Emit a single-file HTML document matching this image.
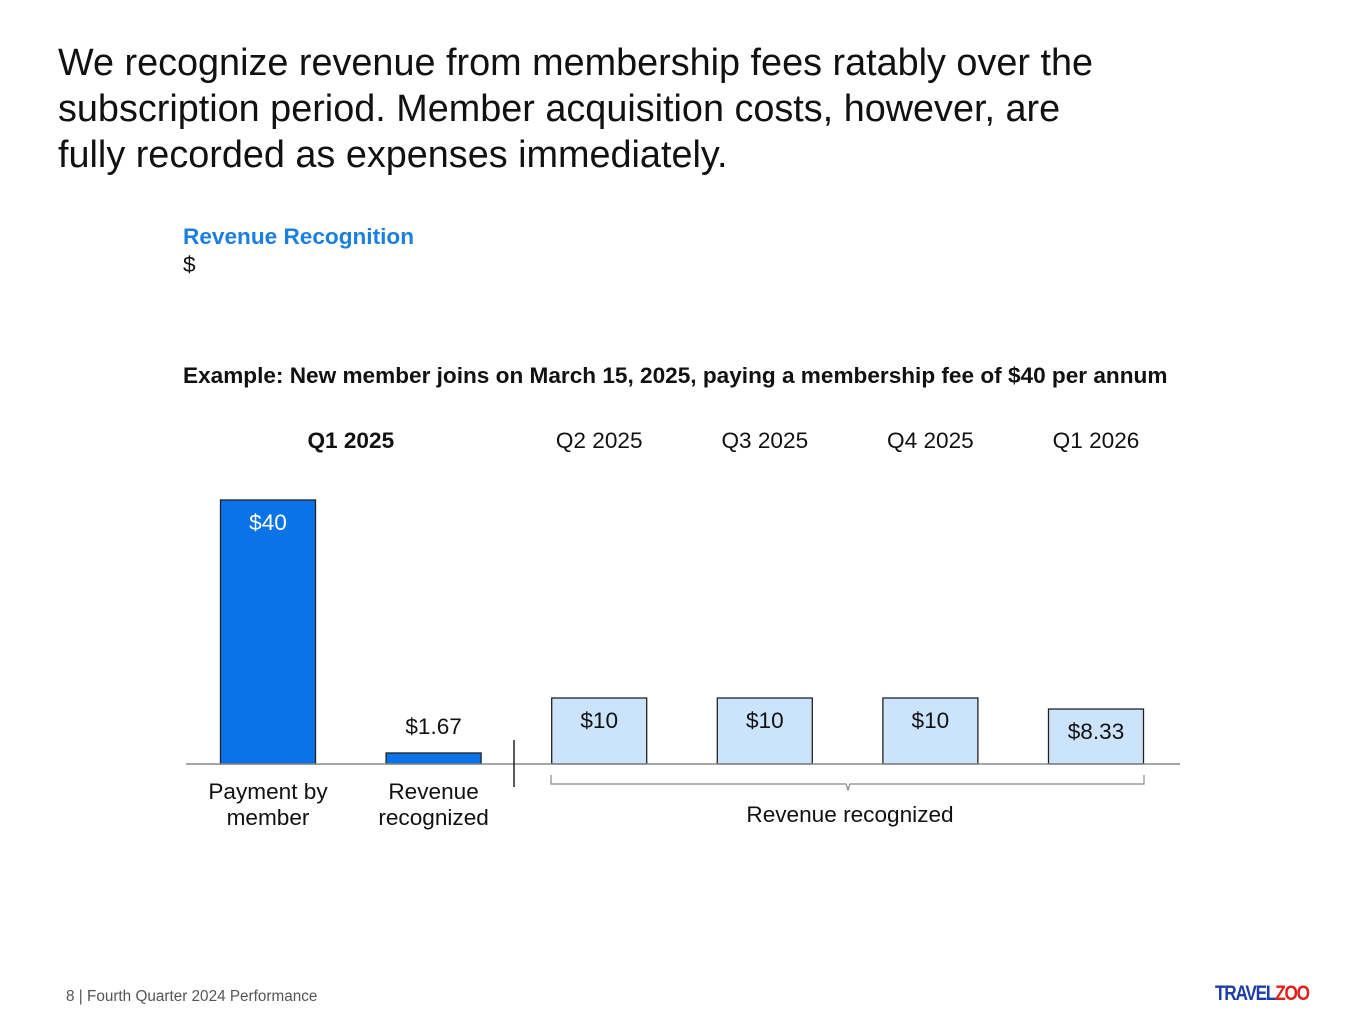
<!DOCTYPE html>
<html><head><meta charset="utf-8"><style>
body{margin:0;width:1365px;height:1024px;background:#fff;font-family:"Liberation Sans",sans-serif;position:relative;overflow:hidden}
.t{position:absolute;white-space:nowrap}
</style></head><body>
<div class="t" style="left:58px;top:40px;font-size:37.8px;line-height:46px;color:#111">We recognize revenue from membership fees ratably over the<br>subscription period. Member acquisition costs, however, are<br>fully recorded as expenses immediately.</div>
<div class="t" style="left:183px;top:224px;font-size:22.6px;font-weight:bold;color:#1a7fe0">Revenue Recognition</div>
<div class="t" style="left:183px;top:252px;font-size:22.6px;color:#111">$</div>
<div class="t" style="left:183px;top:363px;font-size:22.6px;font-weight:bold;color:#111">Example: New member joins on March 15, 2025, paying a membership fee of $40 per annum</div>
<svg id="chart" width="1365" height="1024" style="position:absolute;left:0;top:0" font-family="Liberation Sans, sans-serif"></svg>
<div class="t" style="left:66px;top:988px;font-size:15.3px;color:#555">8 | Fourth Quarter 2024 Performance</div>
<div class="t" style="left:1215px;top:982px;font-size:21px;font-weight:bold;letter-spacing:-1.5px;transform:scaleX(0.82);transform-origin:left"><span style="color:#1b3ea8">TRAVEL</span><span style="color:#e0201a">ZOO</span></div>
<script>
const categories=["Payment by\nmember","Revenue\nrecognized","Q2","Q3","Q4","Q1 2026"];
const values=[40,1.67,10,10,10,8.33];
const labels=["$40","$1.67","$10","$10","$10","$8.33"];
const periods=["Q1 2025","Q2 2025","Q3 2025","Q4 2025","Q1 2026"];
const svg=document.getElementById('chart');
const NS="http://www.w3.org/2000/svg";
const base=764, scale=6.6, x0=268, step=165.6, bw=95, fs=22.6;
const xc=i=>x0+i*step;
const y=v=>base-v*scale;
function mk(t,a,txt){const e=document.createElementNS(NS,t);for(const k in a)e.setAttribute(k,a[k]);if(txt)e.textContent=txt;svg.appendChild(e);return e;}
const pc=[(xc(0)+xc(1))/2,xc(2),xc(3),xc(4),xc(5)];
periods.forEach((p,i)=>{const e=mk('text',{x:pc[i],y:448,'text-anchor':'middle','font-size':fs,fill:'#111','font-weight':i==0?'bold':'normal'},p);

});
values.forEach((v,i)=>{
 const dark=i<2;
 const r=mk('rect',{x:xc(i)-bw/2,y:y(v),width:bw,height:v*scale,fill:dark?'#0a73e8':'#cce4fb',stroke:'#222','stroke-width':1.3});
 
 
 let ty,fill='#111';
 if(i==0){ty=y(v)+30;fill='#fff';}else if(i==1){ty=y(v)-19;}else{ty=y(v)+30;}
 const t=mk('text',{x:xc(i),y:ty,'text-anchor':'middle','font-size':fs,fill},labels[i]);
 
 
});
mk('line',{x1:186,x2:1180,y1:base,y2:base,stroke:'#888','stroke-width':1.5});
mk('line',{x1:514,x2:514,y1:740,y2:787,stroke:'#222','stroke-width':1.5});
mk('path',{d:`M551 775 V784 H846 L848 790 L850 784 H1144 V775`,fill:'none',stroke:'#888','stroke-width':1.2});
[0,1].forEach(i=>{categories[i].split('\n').forEach((l,j)=>{const t=mk('text',{x:xc(i),y:799+j*26,'text-anchor':'middle','font-size':fs,fill:'#111'},l);

});});
const rr=mk('text',{x:850,y:822,'text-anchor':'middle','font-size':fs,fill:'#111'},'Revenue recognized');


</script>
</body></html>
